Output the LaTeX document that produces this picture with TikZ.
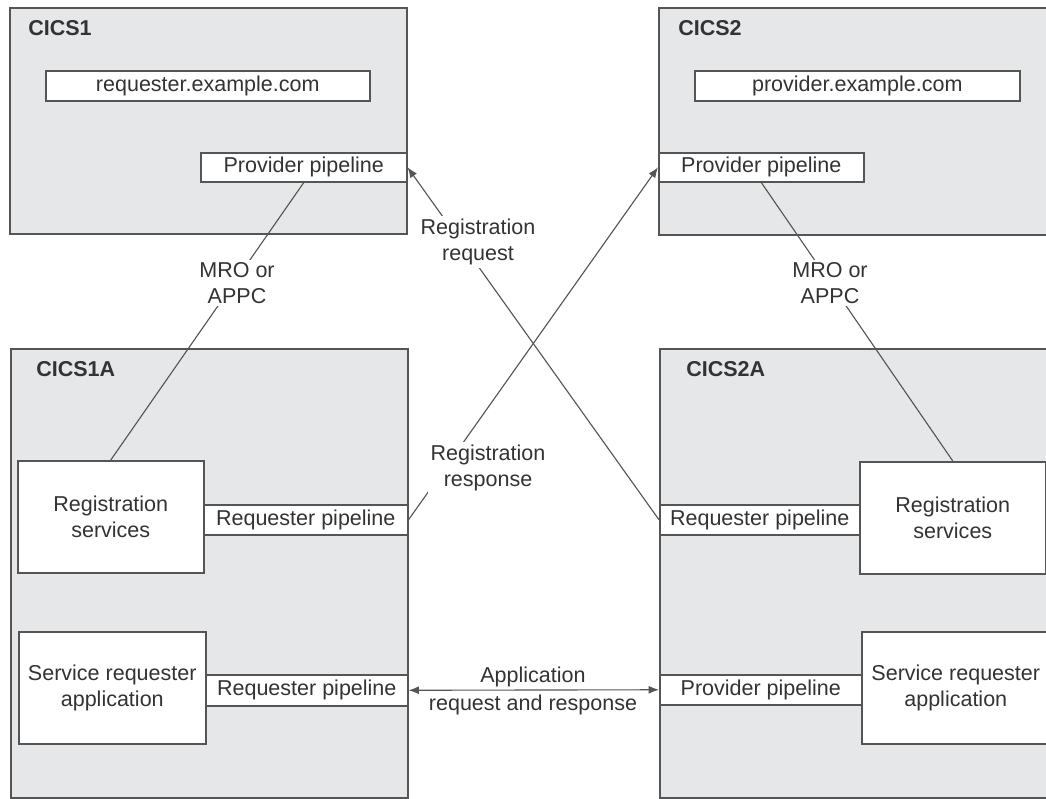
\documentclass[tikz,border=0pt]{standalone}
\usepackage{fontspec}
\setmainfont{Liberation Sans}
\usetikzlibrary{arrows.meta}
\definecolor{graybg}{HTML}{E6E7E8}
\definecolor{linecol}{HTML}{555555}
\definecolor{txtcol}{HTML}{333333}
\begin{document}
\begin{tikzpicture}[x=0.025cm,y=-0.025cm,
  every node/.style={font=\fontsize{15.3}{18.5}\selectfont, text=txtcol},
  cicsbox/.style={draw=linecol, fill=graybg, line width=1.1pt, anchor=north west, inner sep=0pt},
  wbox/.style={draw=linecol, fill=white, line width=1.1pt, anchor=north west, inner sep=0pt, align=center},
  title/.style={anchor=west, font=\fontsize{15.3}{18.5}\selectfont\bfseries, inner sep=0pt},
  lbl/.style={fill=white, align=center, inner sep=2pt},
  conn/.style={draw=linecol, line width=0.8pt},
  tip/.style={-{Latex[length=0.26cm,width=0.2cm]}}
]
\useasboundingbox (0,0) rectangle (1046,799);
\clip (0,0) rectangle (1046,799);
\fill[white] (0,0) rectangle (1046,799);

% CICS1
\node[cicsbox, minimum width=397*0.025cm, minimum height=226*0.025cm] (cics1) at (9,7) {};
\node[title] (t1) at (28,28) {CICS1};
\node[wbox, minimum width=324*0.025cm, minimum height=30*0.025cm] (reqcom) at (45,70) {requester.example.com};
\node[wbox, minimum width=206*0.025cm, minimum height=29*0.025cm] (pp1) at (200,152) {Provider pipeline};

% CICS2
\node[cicsbox, minimum width=420*0.025cm, minimum height=227*0.025cm] (cics2) at (658,7) {};
\node[title] (t2) at (678,28) {CICS2};
\node[wbox, minimum width=325*0.025cm, minimum height=30*0.025cm] (provcom) at (694,70) {provider.example.com};
\node[wbox, minimum width=205*0.025cm, minimum height=29*0.025cm] (pp2) at (658,152) {Provider pipeline};

% CICS1A
\node[cicsbox, minimum width=397*0.025cm, minimum height=449*0.025cm] (cics1a) at (10,348) {};
\node[title] (t1a) at (36,369) {CICS1A};
\node[wbox, minimum width=186*0.025cm, minimum height=112*0.025cm] (rs1) at (17,460) {Registration\\services};
\node[wbox, minimum width=204*0.025cm, minimum height=30*0.025cm] (rp1) at (203,504) {Requester pipeline};
\node[wbox, minimum width=187*0.025cm, minimum height=112*0.025cm] (sra1) at (18,631) {Service requester\\application};
\node[wbox, minimum width=202*0.025cm, minimum height=31*0.025cm] (rp1b) at (205,674) {Requester pipeline};

% CICS2A
\node[cicsbox, minimum width=420*0.025cm, minimum height=449*0.025cm] (cics2a) at (659,348) {};
\node[title] (t2a) at (686,369) {CICS2A};
\node[wbox, minimum width=200*0.025cm, minimum height=30*0.025cm] (rp2) at (659,504) {Requester pipeline};
\node[wbox, minimum width=186*0.025cm, minimum height=112*0.025cm] (rs2) at (859,461) {Registration\\services};
\node[wbox, minimum width=202*0.025cm, minimum height=30*0.025cm] (pp2b) at (659,674) {Provider pipeline};
\node[wbox, minimum width=200*0.025cm, minimum height=112*0.025cm] (sra2) at (861,631) {Service requester\hspace*{0.3cm}\\application\hspace*{0.3cm}};

% connectors
\draw[conn] (pp1.south) -- (rs1.north);
\draw[conn] (pp2.south) -- (rs2.north);
\draw[conn, tip] (rp2.west) -- (pp1.east);
\draw[conn, tip] (rp1.east) -- (pp2.west);
\draw[conn, {Latex[length=0.26cm,width=0.2cm]}-{Latex[length=0.26cm,width=0.2cm]}] (rp1b.east) -- (pp2b.west);

% labels
\node[lbl] (mro1) at (237,283) {MRO or\\APPC};
\node[lbl] (mro2) at (830,283) {MRO or\\APPC};
\node[lbl] (regreq) at (478,242) {Registration\\request};
\node[lbl] (regresp) at (488,468) {Registration\\response};
\node[inner sep=0pt] (app1) at (533,677) {Application};
\node[inner sep=0pt] (app2) at (533,705) {request and response};
\end{tikzpicture}
\end{document}
